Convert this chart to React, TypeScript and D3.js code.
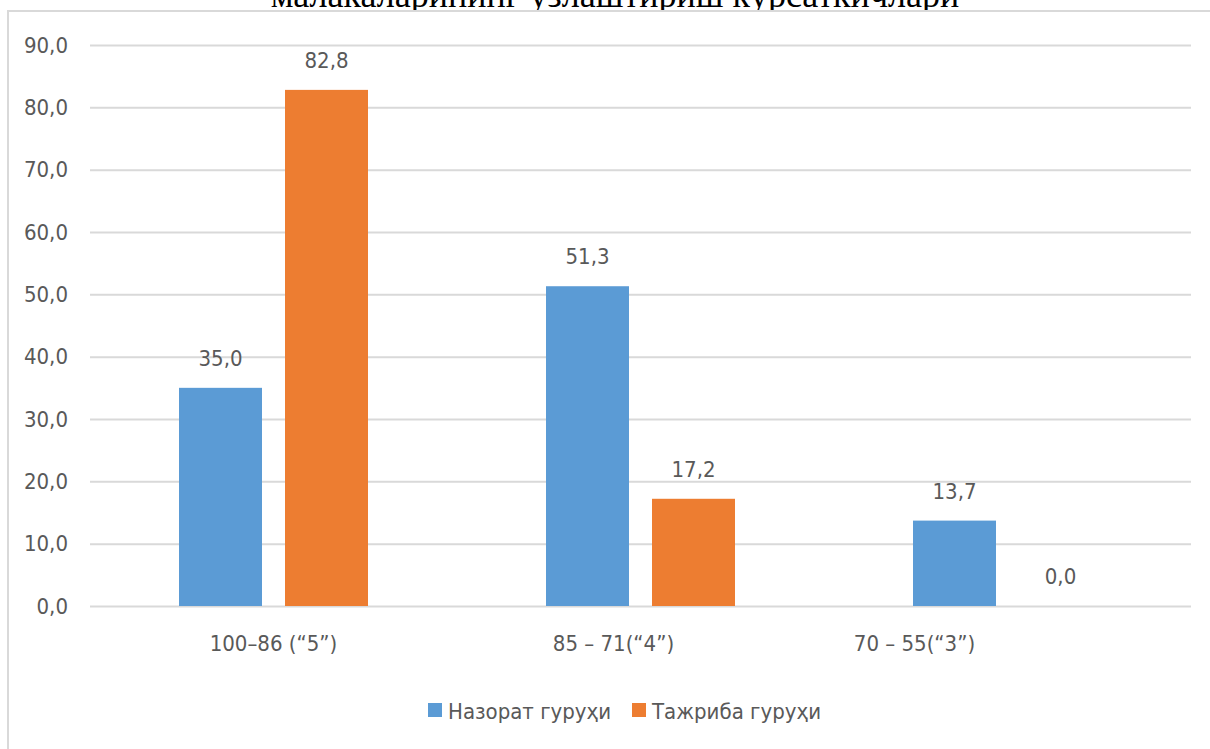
import React, { useEffect, useRef } from "react";
import { select, scaleLinear, scaleBand, axisLeft, format } from "d3";

const categories = ["100–86 (“5”)", "85 – 71(“4”)", "70 – 55(“3”)"];
const seriesNames = ["Назорат гуруҳи", "Тажриба гуруҳи"];
const controlValues = [35.0, 51.3, 13.7];
const experimentValues = [82.8, 17.2, 0.0];
const yTicks = [0, 10, 20, 30, 40, 50, 60, 70, 80, 90];
const title = "малакаларининг ўзлаштириш кўрсаткичлари";

const colors = ["#5B9BD5", "#ED7D31"];
const textColor = "#595959";
const gridColor = "#d9d9d9";
const font = "'DejaVu Sans Condensed', 'Liberation Sans', sans-serif";

function App() {
  const width = 1210;
  const height = 749;
  const svgRef = useRef<SVGSVGElement>(null);

  useEffect(() => {
    const svg = select(svgRef.current);
    svg.selectAll("*").remove();

    const left = 90;
    const right = 1191;
    const top = 45;
    const bottom = 606;
    const fmt = (v: number) => format(".1f")(v).replace(".", ",");

    const yScale = scaleLinear().domain([0, 90]).range([bottom, top]);
    const x0 = scaleBand().domain(categories).range([left, right]);
    const x1 = scaleBand()
      .domain(seriesNames)
      .range([89, x0.bandwidth() - 89])
      .paddingInner(0.217);

    // title, cut off by the page top as in the source scan
    svg
      .append("text")
      .attr("x", 615)
      .attr("y", 7)
      .attr("text-anchor", "middle")
      .attr("font-family", "'Liberation Serif', 'Times New Roman', serif")
      .attr("font-size", 36)
      .attr("fill", "#000")
      .text(title);

    // chart frame
    svg
      .append("rect")
      .attr("x", 8)
      .attr("y", 11)
      .attr("width", width)
      .attr("height", height)
      .attr("fill", "#fff")
      .attr("stroke", gridColor)
      .attr("stroke-width", 2);

    // y axis with gridlines
    const yAxis = axisLeft(yScale)
      .tickValues(yTicks)
      .tickSize(-(right - left))
      .tickPadding(22)
      .tickFormat((d) => fmt(+d));
    const yg = svg
      .append("g")
      .attr("transform", `translate(${left},0)`)
      .call(yAxis);
    yg.select(".domain").remove();
    yg.selectAll(".tick line").attr("stroke", gridColor).attr("stroke-width", 2);
    yg.selectAll(".tick text")
      .attr("fill", textColor)
      .attr("font-family", font)
      .attr("font-size", 22);

    // bars
    const rows = categories.map((c, i) => ({
      cat: c,
      vals: [controlValues[i], experimentValues[i]],
    }));
    const groups = svg
      .append("g")
      .selectAll("g")
      .data(rows)
      .join("g")
      .attr("transform", (d) => `translate(${x0(d.cat)},0)`);

    groups
      .selectAll("rect")
      .data((d) => d.vals.map((v, j) => ({ v, name: seriesNames[j], j })))
      .join("rect")
      .attr("x", (d) => x1(d.name)!)
      .attr("width", x1.bandwidth())
      .attr("y", (d) => yScale(d.v))
      .attr("height", (d) => bottom - yScale(d.v))
      .attr("fill", (d) => colors[d.j]);

    groups
      .selectAll("text")
      .data((d) => d.vals.map((v, j) => ({ v, name: seriesNames[j] })))
      .join("text")
      .attr("x", (d) => x1(d.name)! + x1.bandwidth() / 2)
      .attr("y", (d) => yScale(d.v) - 22)
      .attr("text-anchor", "middle")
      .attr("fill", textColor)
      .attr("font-family", font)
      .attr("font-size", 22)
      .text((d) => fmt(d.v));

    // category labels (Excel put them slightly off-centre)
    const nudge = [0, -27, -93];
    svg
      .append("g")
      .selectAll("text")
      .data(categories)
      .join("text")
      .attr("x", (d, i) => x0(d)! + x0.bandwidth() / 2 + nudge[i])
      .attr("y", 651)
      .attr("text-anchor", "middle")
      .attr("fill", textColor)
      .attr("font-family", font)
      .attr("font-size", 22)
      .text((d) => d);

    // legend
    const legendX = [428, 632];
    const lg = svg
      .append("g")
      .selectAll("g")
      .data(seriesNames)
      .join("g")
      .attr("transform", (d, i) => `translate(${legendX[i]},703)`);
    lg.append("rect")
      .attr("width", 14)
      .attr("height", 14)
      .attr("fill", (d, i) => colors[i]);
    lg.append("text")
      .attr("x", 20)
      .attr("y", 16)
      .attr("fill", textColor)
      .attr("font-family", font)
      .attr("font-size", 22)
      .text((d) => d);
  }, []);

  return (
    <svg
      ref={svgRef}
      width={width}
      height={height}
      style={{ position: "absolute", left: 0, top: 0, background: "#fff" }}
    />
  );
}

export default App;
